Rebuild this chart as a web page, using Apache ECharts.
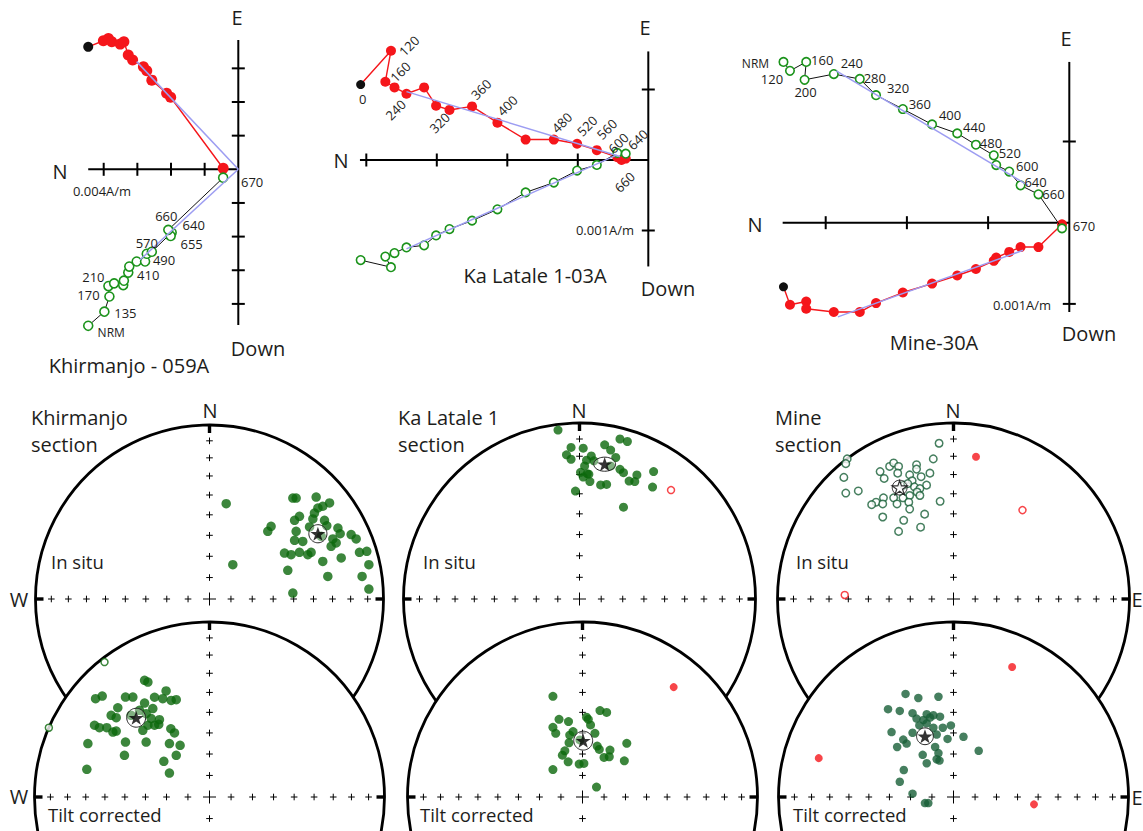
<!DOCTYPE html>
<html>
<head>
<meta charset="utf-8">
<title>Palaeomagnetic results</title>
<script src="https://cdn.jsdelivr.net/npm/echarts@6/dist/echarts.min.js"></script>
<style>
html,body{margin:0;padding:0;background:#fff;}
#chart{width:1143px;height:831px;}
</style>
</head>
<body>
<div id="chart"></div>
<script>
// ---------- Orthogonal demagnetization projections (units: 0.001 A/m) ----------
// horizontal projection points are [N, E]; vertical projection points are [N, Down]

// Khirmanjo - 059A
const khHor = [[4.46,3.64],[4.01,3.82],[3.86,3.89],[3.76,3.79],[3.51,3.72],[3.40,3.79],[3.27,3.40],[3.14,3.25],[2.82,3.05],[2.72,2.93],[2.57,2.65],[2.13,2.26],[2.01,2.14],[0.45,0.03]];
const khVer = [[4.46,4.65],[3.98,4.23],[3.83,3.78],[3.86,3.47],[3.69,3.39],[3.42,3.44],[3.40,3.31],[3.27,3.07],[3.24,2.89],[3.02,2.74],[2.77,2.74],[2.72,2.51],[2.57,2.45],[1.98,1.88],[2.01,1.98],[2.08,1.80],[0.45,0.25]];
const khVerSteps = ['NRM','135','170','210','','','','410','','','490','','570','640','655','660','670'];
const khFitHor = [[3.02,3.20],[0,0]];
const khFitVer = [[0,0],[2.92,2.69]];
const khNTicks = [1,2,3,4];
const khVTicks = [3,2,1,-1,-2,-3,-4];
const khAxisEnds = [4.46, 3.84, -4.63];   // N end, top end, bottom end

// Ka Latale 1-03A
const klHor = [[4.08,1.07],[3.65,1.55],[3.73,1.11],[3.60,1.03],[3.43,0.94],[3.18,1.03],[3.01,0.77],[2.82,0.71],[2.50,0.76],[2.14,0.53],[1.74,0.29],[1.34,0.29],[1.01,0.23],[0.73,0.14],[0.44,0.04],[0.32,0.02],[0.38,0.00]];
const klHorSteps = ['0','120','160','','240','','','320','360','400','','480','520','560','600','640','660'];
const klVer = [[4.08,1.42],[3.65,1.52],[3.73,1.37],[3.60,1.32],[3.43,1.24],[3.18,1.21],[3.01,1.07],[2.82,0.98],[2.50,0.86],[2.14,0.70],[1.74,0.46],[1.34,0.32],[1.01,0.15],[0.73,0.07],[0.44,-0.10],[0.32,-0.09]];
const klFitHor = [[3.43,0.97],[0.40,0.05]];
const klFitVer = [[3.43,1.26],[0.45,-0.07]];
const klNTicks = [1,2,3,4];
const klVTicks = [1,-1];
const klAxisEnds = [4.09, 1.54, -1.51];

// Mine-30A
const mnHor = [[3.52,-0.79],[3.44,-1.01],[3.24,-0.97],[3.24,-1.06],[2.90,-1.10],[2.58,-1.10],[2.38,-0.99],[2.05,-0.86],[1.69,-0.75],[1.38,-0.65],[1.15,-0.57],[0.93,-0.47],[0.90,-0.43],[0.74,-0.36],[0.60,-0.30],[0.38,-0.30],[0.09,-0.02]];
const mnVer = [[3.52,-1.98],[3.44,-1.87],[3.24,-1.98],[3.26,-1.76],[2.90,-1.83],[2.58,-1.77],[2.38,-1.57],[2.05,-1.40],[1.69,-1.21],[1.38,-1.10],[1.15,-0.96],[0.93,-0.83],[0.90,-0.71],[0.74,-0.63],[0.60,-0.46],[0.38,-0.35],[0.09,0.07]];
const mnVerSteps = ['NRM','120','160','200','240','280','320','360','400','440','480','520','','600','640','660','670'];
const mnFitVer = [[2.87,-1.87],[0.51,-0.46]];
const mnFitHor = [[2.85,-1.16],[0.57,-0.34]];
const mnNTicks = [1,2,3];
const mnVTicks = [1,-1];
const mnAxisEnds = [3.53, 1.98, -1.10];

// ---------- Site-mean directions, equal-area projection [east, north] (net radius = 1) ----------
const khirInSitu = [[0.096,0.548],[0.134,0.197],[0.354,0.418],[0.335,0.389],[0.479,0.580],[0.498,0.580],[0.613,0.586],[0.690,0.552],[0.651,0.533],[0.623,0.523],[0.603,0.494],[0.517,0.475],[0.489,0.452],[0.594,0.460],[0.661,0.452],[0.674,0.421],[0.575,0.414],[0.498,0.389],[0.489,0.337],[0.536,0.331],[0.738,0.408],[0.751,0.375],[0.709,0.345],[0.728,0.322],[0.699,0.303],[0.814,0.370],[0.843,0.345],[0.431,0.264],[0.469,0.255],[0.517,0.268],[0.565,0.255],[0.584,0.268],[0.651,0.216],[0.757,0.236],[0.862,0.268],[0.904,0.274],[0.916,0.197],[0.450,0.165],[0.680,0.130],[0.877,0.130],[0.916,0.057],[0.479,0.034],[0.642,0.360]];
const khirInSituMean = [0.623,0.375];
const khirInSituA95 = [0.052,0.052];

const khirTilt = [[-0.371,0.667],[-0.352,0.657],[-0.248,0.606],[-0.651,0.562],[-0.613,0.577],[-0.480,0.571],[-0.438,0.571],[-0.314,0.570],[-0.267,0.562],[-0.219,0.552],[-0.190,0.556],[-0.371,0.537],[-0.524,0.510],[-0.324,0.505],[-0.562,0.467],[-0.533,0.453],[-0.362,0.476],[-0.333,0.448],[-0.286,0.442],[-0.657,0.410],[-0.629,0.396],[-0.587,0.396],[-0.552,0.371],[-0.533,0.377],[-0.381,0.381],[-0.352,0.410],[-0.314,0.410],[-0.290,0.415],[-0.221,0.390],[-0.200,0.366],[-0.695,0.305],[-0.480,0.314],[-0.362,0.314],[-0.229,0.305],[-0.168,0.295],[-0.486,0.238],[-0.190,0.238],[-0.261,0.204],[-0.701,0.158],[-0.229,0.137],[-0.448,0.467],[-0.400,0.495]];
const khirTiltUpper = [[-0.600,0.771],[-0.918,0.396]];
const khirTiltMean = [-0.419,0.453];
const khirTiltA95 = [0.054,0.054];

const klInSitu = [[-0.122,0.960],[-0.048,0.861],[0.021,0.857],[-0.074,0.819],[-0.048,0.794],[0.143,0.876],[0.230,0.909],[0.272,0.895],[0.177,0.846],[0.206,0.804],[0.067,0.813],[0.040,0.789],[0.029,0.756],[0.230,0.737],[0.250,0.718],[0.177,0.756],[0.044,0.712],[0.021,0.693],[0.059,0.667],[0.120,0.648],[0.154,0.651],[0.282,0.670],[0.326,0.705],[0.314,0.667],[0.421,0.724],[0.415,0.636],[-0.023,0.613],[0.250,0.522],[0.053,0.709],[0.006,0.720],[0.082,0.785]];
const klInSituRevUpper = [[0.520,0.619]];
const klInSituMean = [0.143,0.766];
const klInSituA95 = [0.062,0.040];

const klTilt = [[-0.169,0.575],[0.100,0.494],[0.138,0.483],[-0.134,0.444],[-0.080,0.431],[0.023,0.456],[0.033,0.444],[0.046,0.412],[-0.169,0.398],[-0.153,0.364],[-0.054,0.374],[-0.073,0.354],[0.071,0.364],[-0.077,0.310],[0.084,0.291],[0.096,0.272],[0.253,0.307],[0.157,0.268],[-0.101,0.264],[-0.115,0.239],[-0.082,0.201],[0.123,0.226],[0.153,0.230],[0.239,0.207],[-0.019,0.188],[0.008,0.192],[-0.169,0.157],[0.080,0.057],[-0.015,0.326]];
const klTiltRev = [[0.521,0.628]];
const klTiltMean = [0.004,0.322];
const klTiltA95 = [0.054,0.054];

const mnInSituUpper = [[-0.082,0.885],[-0.115,0.796],[-0.604,0.796],[-0.612,0.769],[-0.623,0.691],[-0.612,0.602],[-0.541,0.614],[-0.417,0.724],[-0.394,0.685],[-0.363,0.753],[-0.340,0.773],[-0.312,0.753],[-0.317,0.715],[-0.249,0.705],[-0.210,0.763],[-0.210,0.738],[-0.184,0.695],[-0.134,0.715],[-0.153,0.647],[-0.235,0.672],[-0.222,0.637],[-0.191,0.627],[-0.207,0.608],[-0.249,0.588],[-0.191,0.588],[-0.283,0.647],[-0.260,0.656],[-0.340,0.575],[-0.287,0.575],[-0.398,0.575],[-0.440,0.550],[-0.465,0.536],[-0.402,0.540],[-0.321,0.540],[-0.254,0.550],[-0.249,0.511],[-0.076,0.555],[-0.164,0.482],[-0.402,0.466],[-0.283,0.447],[-0.187,0.408],[-0.312,0.384]];
const mnInSituRev = [[0.128,0.808]];
const mnInSituRevUpper = [[0.392,0.505],[-0.618,0.023]];
const mnInSituMean = [-0.306,0.633];
const mnInSituA95 = [0.042,0.042];

const mnTilt = [[-0.274,0.589],[-0.201,0.566],[-0.086,0.573],[-0.374,0.502],[-0.307,0.492],[-0.234,0.479],[-0.153,0.473],[-0.115,0.467],[-0.077,0.459],[-0.211,0.448],[-0.172,0.440],[-0.134,0.454],[-0.195,0.409],[-0.153,0.421],[-0.115,0.396],[-0.061,0.396],[-0.015,0.409],[-0.354,0.371],[-0.234,0.367],[-0.096,0.357],[-0.034,0.332],[0.057,0.344],[-0.287,0.328],[-0.268,0.305],[-0.322,0.286],[-0.105,0.286],[-0.086,0.251],[-0.176,0.241],[-0.096,0.216],[-0.080,0.208],[-0.153,0.193],[0.144,0.264],[-0.284,0.154],[-0.307,0.087],[-0.234,0.019],[-0.163,-0.035],[-0.144,-0.035]];
const mnTiltRev = [[0.335,0.743],[-0.770,0.222],[0.460,-0.042]];
const mnTiltMean = [-0.163,0.347];
const mnTiltA95 = [0.048,0.048];

// graticule crosses every 10 degrees of inclination
const netColatitudes = [10,20,30,40,50,60,70,80];

// ---------- layout & styling ----------
const FONT = '"Open Sans", sans-serif';
const INK = '#1d1d1b';
const RED = '#f5161b';
const ZGREEN = '#1b931b';
const SGREEN = '#0b680b';
const MGREEN = '#185f37';
const FITC = '#9d9df2';
const STAR = 'path://M50,0L61.8,35.1L98.5,35.1L68.8,56.7L80.2,91.6L50,70L19.8,91.6L31.2,56.7L1.5,35.1L38.2,35.1Z';

const zijLayout = [
  {left:40, top:8, width:245, height:340, ox:238.3, oy:169.3, unit:33.65},
  {left:335, top:8, width:340, height:290, ox:648.3, oy:160, unit:70.5},
  {left:725, top:8, width:390, height:330, ox:1069.3, oy:222.7, unit:81.2}
];
const netLayout = [
  {cx:209.5, cy:599, r:174},
  {cx:209.5, cy:797, r:175},
  {cx:579.5, cy:599, r:176},
  {cx:582.5, cy:797, r:175},
  {cx:953.5, cy:599, r:176},
  {cx:953.5, cy:797, r:175}
];

// label offsets in px from each measurement point
const khVerOff = [[23,7],[21,1],[-21,-1],[-15,-9],[0,0],[0,0],[0,0],[20,2],[0,0],[0,0],[19,-2],[0,0],[-5,-9],[22,-7.5],[21,8],[-2,-14],[29,4]];
const klHorOff = [[2,14],[18,-5],[15,-10],[0,0],[-11,16],[0,0],[0,0],[-10,13],[9,-17],[10,-17],[0,0],[8,-17],[10,-18],[10,-21],[1,-14],[12,-19],[3,22]];
const mnVerOff = [[-28,2],[-18,8],[16,-2],[1,12],[18,-11],[15,-1],[22,-7],[17,-5],[18,-9],[17,-6],[15,-2],[16,-2],[0,0],[18,-6],[15,-3],[15,0],[22,-2]];

const grids = [], xAxes = [], yAxes = [];
zijLayout.forEach(function (L) {
  const gi = grids.length;
  grids.push({left:L.left, top:L.top, width:L.width, height:L.height, containLabel:false, outerBoundsMode:'none'});
  xAxes.push({type:'value', gridIndex:gi, inverse:true, show:false,
    min:(L.ox - L.left - L.width) / L.unit, max:(L.ox - L.left) / L.unit});
  yAxes.push({type:'value', gridIndex:gi, show:false,
    min:(L.oy - L.top - L.height) / L.unit, max:(L.oy - L.top) / L.unit});
});
netLayout.forEach(function (L) {
  const gi = grids.length;
  grids.push({left:L.cx - L.r, top:L.cy - L.r, width:2 * L.r, height:L.r, containLabel:false, outerBoundsMode:'none'});
  xAxes.push({type:'value', gridIndex:gi, min:-1, max:1, show:false});
  yAxes.push({type:'value', gridIndex:gi, min:0, max:1, show:false});
});

function ringRadius(colat) { return Math.SQRT2 * Math.sin(colat * Math.PI / 360); }

function zijAxes(gi, ends, nTicks, vTicks) {
  return {
    type:'custom', xAxisIndex:gi, yAxisIndex:gi, z:2, clip:false, silent:true, data:[[0,0]],
    renderItem:function (params, api) {
      const o = api.coord([0,0]);
      const a = api.coord([ends[0],0]);
      const t = api.coord([0,ends[1]]);
      const b = api.coord([0,ends[2]]);
      const ln = function (x1,y1,x2,y2) { return {type:'line', shape:{x1:x1,y1:y1,x2:x2,y2:y2}, style:{stroke:'#000', lineWidth:2}}; };
      const kids = [ln(a[0],a[1],o[0],o[1]), ln(t[0],t[1],b[0],b[1])];
      nTicks.forEach(function (n) { const q = api.coord([n,0]); kids.push(ln(q[0],q[1]-6.5,q[0],q[1]+6.5)); });
      vTicks.forEach(function (v) { const q = api.coord([0,v]); kids.push(ln(q[0]-6.5,q[1],q[0]+6.5,q[1])); });
      return {type:'group', children:kids};
    }
  };
}

function horTrace(gi, pts, size) {
  return {
    type:'line', xAxisIndex:gi, yAxisIndex:gi, z:3, clip:false, silent:true,
    data: pts.map(function (p, i) {
      return i === 0 ? {value:[p[0],p[1]], itemStyle:{color:'#111'}, symbolSize:size - 1} : [p[0],p[1]];
    }),
    symbol:'circle', symbolSize:size, showSymbol:true,
    lineStyle:{color:RED, width:1.4}, itemStyle:{color:RED}
  };
}
function verTrace(gi, pts, size) {
  return {
    type:'line', xAxisIndex:gi, yAxisIndex:gi, z:4, clip:false, silent:true,
    data: pts.map(function (p) { return [p[0], -p[1]]; }),
    symbol:'circle', symbolSize:size, showSymbol:true,
    lineStyle:{color:'#111', width:1}, itemStyle:{color:'#fff', borderColor:ZGREEN, borderWidth:1.6}
  };
}
function fitLine(gi, pts, vertical) {
  return {
    type:'line', xAxisIndex:gi, yAxisIndex:gi, z:5, clip:false, silent:true, symbol:'none',
    data: pts.map(function (p) { return [p[0], vertical ? -p[1] : p[1]]; }),
    lineStyle:{color:FITC, width:1.5}
  };
}
function stepLabels(gi, pts, vertical, steps, offs, rotated, size) {
  const data = [];
  pts.forEach(function (p, i) { if (steps[i]) data.push([p[0], vertical ? -p[1] : p[1], i]); });
  return {
    type:'custom', xAxisIndex:gi, yAxisIndex:gi, z:6, clip:false, silent:true, data:data,
    renderItem:function (params, api) {
      const i = api.value(2);
      const q = api.coord([api.value(0), api.value(1)]);
      const o = offs[i];
      const s = steps[i];
      const fs = s === 'NRM' ? size - 1 : size;
      return {type:'text', x:q[0] + o[0], y:q[1] + o[1], rotation:(rotated && s !== '0') ? Math.PI / 4 : 0,
        style:{text:s, fill:INK, font:fs + 'px ' + FONT, lineHeight:fs + 1, align:'center', verticalAlign:'middle', textAlign:'center', textVerticalAlign:'middle'}};
    }
  };
}

function netFrame(gi, filled, south, z) {
  return {
    type:'custom', xAxisIndex:gi, yAxisIndex:gi, z:z, clip:false, silent:true, data:[[0,0]],
    renderItem:function (params, api) {
      const c = api.coord([0,0]);
      const r = api.size([1,1])[0];
      const kids = [{type:'circle', shape:{cx:c[0], cy:c[1], r:r}, style:{fill:filled ? '#fff' : 'none', stroke:'#000', lineWidth:2.8}}];
      const plus = function (x, y, h) {
        kids.push({type:'line', shape:{x1:x - h, y1:y, x2:x + h, y2:y}, style:{stroke:'#000', lineWidth:1}});
        kids.push({type:'line', shape:{x1:x, y1:y - h, x2:x, y2:y + h}, style:{stroke:'#000', lineWidth:1}});
      };
      netColatitudes.forEach(function (cl) {
        const rr = ringRadius(cl);
        const spots = [[0,rr],[-rr,0],[rr,0]];
        if (south) spots.push([0,-rr]);
        spots.forEach(function (s) { const q = api.coord(s); plus(q[0], q[1], 3.3); });
      });
      plus(c[0], c[1], 6.5);
      kids.push({type:'rect', shape:{x:c[0] - 1.7, y:c[1] - r, width:3.4, height:8}, style:{fill:'#000'}});
      kids.push({type:'rect', shape:{x:c[0] - r, y:c[1] - 1.7, width:8, height:3.4}, style:{fill:'#000'}});
      kids.push({type:'rect', shape:{x:c[0] + r - 8, y:c[1] - 1.7, width:8, height:3.4}, style:{fill:'#000'}});
      return {type:'group', children:kids};
    }
  };
}
function dots(gi, pts, color, open, size, z) {
  return {
    type:'scatter', xAxisIndex:gi, yAxisIndex:gi, z:z, clip:false, silent:true,
    data:pts, symbol:'circle', symbolSize:size,
    itemStyle: open ? {color:'#fff', borderColor:color, borderWidth:1.5} : {color:color}
  };
}
function meanMark(gi, mean, a95, openStar, z) {
  return [
    {
      type:'custom', xAxisIndex:gi, yAxisIndex:gi, z:z, clip:false, silent:true,
      data:[[mean[0], mean[1], a95[0], a95[1]]],
      renderItem:function (params, api) {
        const c = api.coord([api.value(0), api.value(1)]);
        const rx = api.size([api.value(2), 0])[0];
        const ry = api.size([0, api.value(3)])[1];
        const pts = [];
        for (let k = 0; k < 48; k++) {
          const t = k / 48 * Math.PI * 2;
          pts.push([c[0] + rx * Math.cos(t), c[1] + ry * Math.sin(t)]);
        }
        return {type:'polygon', shape:{points:pts}, style:{fill:'rgba(255,255,255,0.35)', stroke:'#222', lineWidth:1}};
      }
    },
    {
      type:'scatter', xAxisIndex:gi, yAxisIndex:gi, z:z + 1, clip:false, silent:true,
      data:[mean], symbol:STAR, symbolSize:15, symbolKeepAspect:true,
      itemStyle: openStar ? {color:'#fff', borderColor:'#000', borderWidth:1.2} : {color:'#000'}
    }
  ];
}

const series = [];
// Khirmanjo - 059A
series.push(zijAxes(0, khAxisEnds, khNTicks, khVTicks));
series.push(horTrace(0, khHor, 11), verTrace(0, khVer, 9));
series.push(fitLine(0, khFitHor, false), fitLine(0, khFitVer, true));
series.push(stepLabels(0, khVer, true, khVerSteps, khVerOff, false, 13));
// Ka Latale 1-03A
series.push(zijAxes(1, klAxisEnds, klNTicks, klVTicks));
series.push(horTrace(1, klHor, 10), verTrace(1, klVer, 8.5));
series.push(fitLine(1, klFitHor, false), fitLine(1, klFitVer, true));
series.push(stepLabels(1, klHor, false, klHorSteps, klHorOff, true, 13));
// Mine-30A
series.push(zijAxes(2, mnAxisEnds, mnNTicks, mnVTicks));
series.push(horTrace(2, mnHor, 10), verTrace(2, mnVer, 8.5));
series.push(fitLine(2, mnFitVer, true), fitLine(2, mnFitHor, false));
series.push(stepLabels(2, mnVer, true, mnVerSteps, mnVerOff, false, 13));

// stereonets: in situ (upper) then tilt corrected (overlapping, lower)
series.push(netFrame(3, false, false, 10));
series.push(dots(3, khirInSitu, SGREEN, false, 9.5, 11));
series.push.apply(series, meanMark(3, khirInSituMean, khirInSituA95, false, 12));
series.push(netFrame(4, true, true, 20));
series.push(dots(4, khirTilt, SGREEN, false, 9.5, 21));
series.push(dots(4, khirTiltUpper, SGREEN, true, 7, 21));
series.push.apply(series, meanMark(4, khirTiltMean, khirTiltA95, false, 22));

series.push(netFrame(5, false, false, 10));
series.push(dots(5, klInSitu, SGREEN, false, 9, 11));
series.push(dots(5, klInSituRevUpper, RED, true, 7, 11));
series.push.apply(series, meanMark(5, klInSituMean, klInSituA95, false, 12));
series.push(netFrame(6, true, true, 20));
series.push(dots(6, klTilt, SGREEN, false, 9, 21));
series.push(dots(6, klTiltRev, RED, false, 8, 21));
series.push.apply(series, meanMark(6, klTiltMean, klTiltA95, false, 22));

series.push(netFrame(7, false, false, 10));
series.push(dots(7, mnInSituUpper, MGREEN, true, 7.5, 11));
series.push(dots(7, mnInSituRev, RED, false, 8, 11));
series.push(dots(7, mnInSituRevUpper, RED, true, 7, 11));
series.push.apply(series, meanMark(7, mnInSituMean, mnInSituA95, true, 12));
series.push(netFrame(8, true, true, 20));
series.push(dots(8, mnTilt, MGREEN, false, 8.5, 21));
series.push(dots(8, mnTiltRev, RED, false, 8, 21));
series.push.apply(series, meanMark(8, mnTiltMean, mnTiltA95, false, 22));

function txt(s, x, y, size, align) {
  return {type:'text', x:x, y:y, z:100, silent:true,
    style:{text:s, fill:INK, font:size + 'px ' + FONT, align:align || 'center', verticalAlign:'middle',
      textAlign:align || 'center', textVerticalAlign:'middle'}};
}
const graphics = [
  txt('E', 237, 17, 20), txt('N', 60, 171, 20), txt('Down', 258, 348, 20),
  txt('0.004A/m', 102, 191, 13), txt('Khirmanjo - 059A', 129, 365, 20),
  txt('E', 645, 27, 20), txt('N', 341, 160, 20), txt('Down', 668, 288, 20),
  txt('0.001A/m', 605, 230, 13), txt('Ka Latale 1-03A', 535, 275, 20),
  txt('E', 1066, 38, 20), txt('N', 755, 224, 20), txt('Down', 1089, 333, 20),
  txt('0.001A/m', 1022, 305, 13), txt('Mine-30A', 934, 342, 20),

  txt('N', 210, 410, 20), txt('N', 579, 410, 20), txt('N', 953, 410, 20),
  txt('W', 19, 599, 20), txt('W', 19, 796, 20), txt('E', 1137, 599, 20), txt('E', 1137, 797, 20),
  txt('Khirmanjo', 31, 417, 20, 'left'), txt('section', 31, 444, 20, 'left'),
  txt('Ka Latale 1', 398, 417, 20, 'left'), txt('section', 398, 444, 20, 'left'),
  txt('Mine', 775, 417, 20, 'left'), txt('section', 775, 444, 20, 'left'),
  txt('In situ', 51, 561, 18.5, 'left'), txt('In situ', 423, 561, 18.5, 'left'), txt('In situ', 796, 561, 18.5, 'left'),
  txt('Tilt corrected', 48, 814, 18.5, 'left'), txt('Tilt corrected', 420, 814, 18.5, 'left'), txt('Tilt corrected', 793, 814, 18.5, 'left')
];

const chart = echarts.init(document.getElementById('chart'), null, {renderer:'svg', width:1143, height:831});
chart.setOption({
  animation:false,
  backgroundColor:'#fff',
  textStyle:{fontFamily:FONT},
  grid:grids, xAxis:xAxes, yAxis:yAxes,
  series:series,
  graphic:graphics
});
</script>
</body>
</html>
